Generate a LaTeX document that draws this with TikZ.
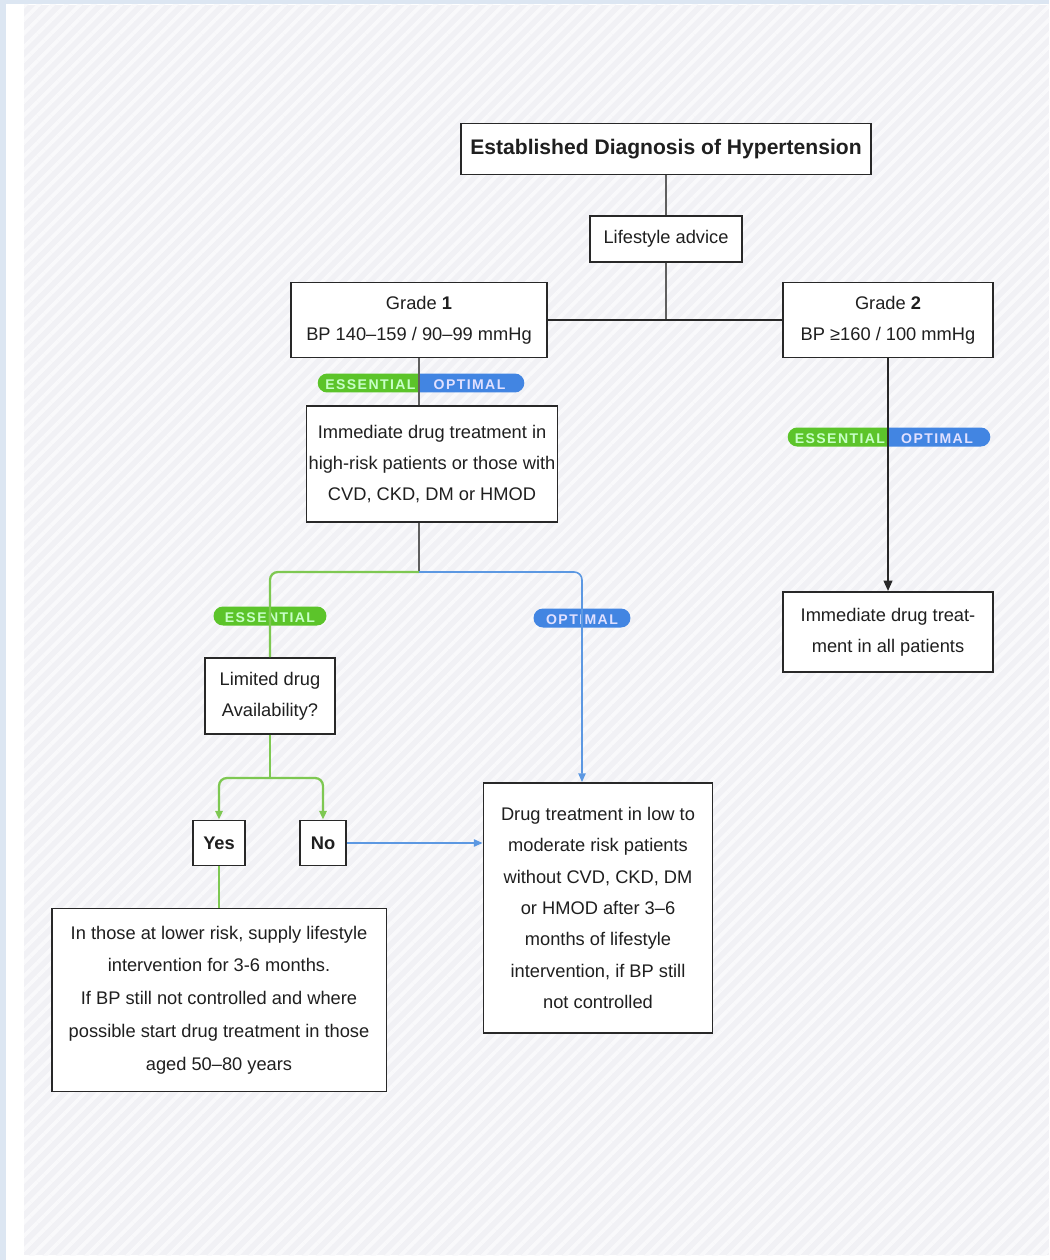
\documentclass[tikz,border=0pt]{standalone}
\usepackage{fontspec}
\setmainfont{Liberation Sans}
\newfontfamily\badgefont[LetterSpace=10]{Liberation Sans}
\usetikzlibrary{arrows.meta,shapes.misc,patterns.meta}

\definecolor{frameblue}{RGB}{220,230,242}
\definecolor{hatchgray}{RGB}{241,241,245}
\definecolor{boxline}{RGB}{40,40,40}
\definecolor{linkgray}{RGB}{95,95,95}
\definecolor{essgreen}{RGB}{92,196,42}
\definecolor{optblue}{RGB}{66,133,226}
\definecolor{greenline}{RGB}{126,200,82}
\definecolor{blueline}{RGB}{92,152,226}

\begin{document}
\begin{tikzpicture}[
  x=0.02cm,
  y=-0.02cm,
  box/.style={draw=boxline, line width=1.1pt, fill=white, align=center,
    inner sep=1pt, text=black!88,
    font=\fontsize{10.4}{17.6}\selectfont},
  badge/.style={rounded rectangle, minimum height=0.38cm, inner xsep=2pt,
    inner ysep=0pt, text height=1.6ex, text depth=0.15ex,
    font=\badgefont\bfseries\fontsize{8}{9}\selectfont},
  ess badge/.style={badge, fill=essgreen, text=green!22!white},
  opt badge/.style={badge, fill=optblue, text=blue!12!white},
  gray link/.style={draw=linkgray, line width=0.85pt},
  dark link/.style={draw=boxline, line width=1.1pt},
  green link/.style={draw=greenline, line width=1.3pt, rounded corners=4.5pt},
  blue link/.style={draw=blueline, line width=0.9pt, rounded corners=4.5pt},
  tip/.style={-{Triangle[length=5pt,width=4.2pt]}}
]
  \path[use as bounding box] (0,0) rectangle (1049,1260);

  % Page frame and hatched backdrop.
  \fill[frameblue] (0,0) rectangle (1049,1260);
  \fill[white] (6,4) rectangle (1049,1260);
  \fill[hatchgray] (24,5) rectangle (1049,1255);
  \fill[pattern={Lines[angle=45,distance=5.5pt,line width=2.2pt]},
    pattern color=white!60!hatchgray] (24,5) rectangle (1049,1255);

  % Diagnosis and grades.
  \node[box, minimum width=8.2cm, minimum height=1.02cm,
    font=\bfseries\fontsize{12}{14}\selectfont] (diag) at (666,149)
    {Established Diagnosis of Hypertension};
  \node[box, minimum width=3.04cm, minimum height=0.92cm] (life) at (666,239)
    {Lifestyle advice};
  \node[box, minimum width=5.12cm, minimum height=1.5cm] (grade1) at (419,320)
    {Grade \textbf{1}\\BP 140--159 / 90--99 mmHg};
  \node[box, minimum width=4.2cm, minimum height=1.5cm] (grade2) at (888,320)
    {Grade \textbf{2}\\BP ≥160 / 100 mmHg};

  % Grade 1 branch.
  \node[ess badge, rounded rectangle right arc=none, minimum width=2.16cm,
    anchor=east] (gaess) at (419,383) {ESSENTIAL};
  \node[opt badge, rounded rectangle left arc=none, minimum width=2.24cm,
    anchor=west] (gaopt) at (419,383) {OPTIMAL};
  \node[box, minimum width=5.02cm, minimum height=2.32cm] (immhigh) at (432,464)
    {Immediate drug treatment in\\high-risk patients or those with\\CVD, CKD, DM or HMOD};
  \coordinate (split) at (419,572);
  \node[ess badge, minimum width=2.4cm] (essonly) at (270,616) {ESSENTIAL};
  \node[opt badge, minimum width=2.08cm] (optonly) at (582,618) {OPTIMAL};
  \node[box, minimum width=2.6cm, minimum height=1.52cm] (limited) at (270,696)
    {Limited drug\\Availability?};
  \coordinate (fork) at (270,778);
  \node[box, minimum width=1.04cm, minimum height=0.9cm, font=\bfseries
    \fontsize{10.4}{12}\selectfont] (yes) at (219,843) {Yes};
  \node[box, minimum width=0.92cm, minimum height=0.9cm, font=\bfseries
    \fontsize{10.4}{12}\selectfont] (no) at (323,843) {No};
  \node[box, minimum width=6.7cm, minimum height=3.66cm,
    font=\fontsize{10.4}{18.7}\selectfont] (lowrisk) at (219,1000)
    {In those at lower risk, supply lifestyle\\intervention for 3-6 months.\\If BP still not controlled and where\\possible start drug treatment in those\\aged 50--80 years};
  \node[box, minimum width=4.58cm, minimum height=5cm,
    font=\fontsize{10.4}{17.9}\selectfont] (lowmod) at (598,908)
    {Drug treatment in low to\\moderate risk patients\\without CVD, CKD, DM\\or HMOD after 3--6\\months of lifestyle\\intervention, if BP still\\not controlled};

  % Grade 2 branch.
  \node[ess badge, rounded rectangle right arc=none, minimum width=2.14cm,
    anchor=east] (gbess) at (888,437) {ESSENTIAL};
  \node[opt badge, rounded rectangle left arc=none, minimum width=2.18cm,
    anchor=west] (gbopt) at (888,437) {OPTIMAL};
  \node[box, minimum width=4.2cm, minimum height=1.6cm] (immall) at (888,632)
    {Immediate drug treat-\\ment in all patients};

  % Connectors.
  \draw[gray link] (diag.south) -- (life.north);
  \draw[gray link] (life.south) -- (life.south |- grade1.east);
  \draw[dark link] (grade1.east) -- (grade2.west);
  \draw[gray link] (grade1.south) -- (grade1.south |- immhigh.north);
  \draw[gray link] (grade1.south |- immhigh.south) -- (split);
  \draw[green link] (split) -| (limited.north);
  \draw[blue link, tip] (split) -| (optonly.center |- lowmod.north);
  \draw[green link] (limited.south) -- (fork);
  \draw[green link, tip] (fork) -| (yes.north);
  \draw[green link, tip] (fork) -| (no.north);
  \draw[green link] (yes.south) -- (yes.south |- lowrisk.north);
  \draw[blue link, tip] (no.east) -- (no.east -| lowmod.west);
  \draw[dark link, -{Triangle[length=6pt,width=5pt]}] (grade2.south) -- (immall.north);
\end{tikzpicture}
\end{document}
